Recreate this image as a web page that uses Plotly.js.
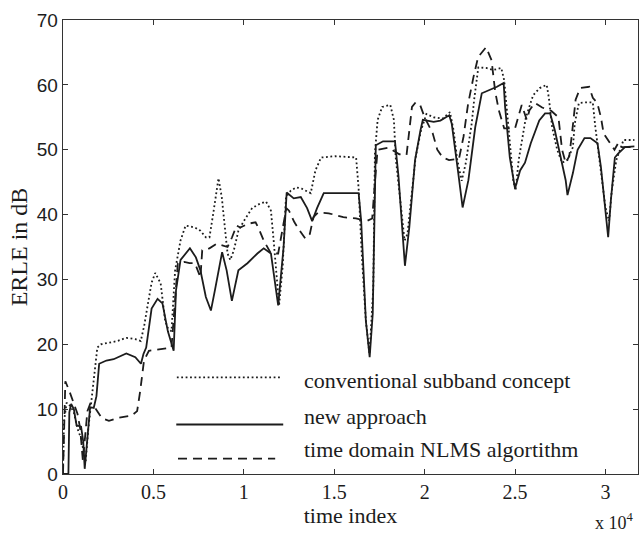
<!DOCTYPE html>
<html>
<head>
<meta charset="utf-8">
<script src="https://cdn.plot.ly/plotly-3.0.1.min.js"></script>
<style>html,body{margin:0;padding:0;background:#fff;}#chart{width:643px;height:538px;}</style>
</head>
<body>
<div id="chart"></div>
<script>
// time index in units of 10^4
var convX = [0, 0.005, 0.02, 0.04, 0.06, 0.08, 0.1, 0.115, 0.125, 0.14, 0.155, 0.17, 0.19, 0.21, 0.25, 0.3, 0.35, 0.4, 0.43, 0.45, 0.47, 0.49, 0.51, 0.54, 0.565, 0.58, 0.6, 0.62, 0.65, 0.678, 0.73, 0.76, 0.79, 0.81, 0.83, 0.85, 0.86, 0.878, 0.895, 0.91, 0.925, 0.945, 0.97, 1.0, 1.046, 1.09, 1.123, 1.15, 1.165, 1.18, 1.195, 1.215, 1.233, 1.26, 1.29, 1.32, 1.37, 1.396, 1.427, 1.505, 1.621, 1.635, 1.652, 1.675, 1.695, 1.716, 1.725, 1.74, 1.765, 1.81, 1.83, 1.84, 1.87, 1.889, 1.905, 1.925, 1.95, 1.98, 2.01, 2.05, 2.1, 2.14, 2.16, 2.18, 2.205, 2.228, 2.24, 2.26, 2.275, 2.297, 2.34, 2.38, 2.424, 2.44, 2.47, 2.49, 2.503, 2.52, 2.56, 2.6, 2.636, 2.675, 2.687, 2.705, 2.733, 2.76, 2.79, 2.82, 2.83, 2.853, 2.886, 2.93, 2.944, 2.97, 3.0, 3.02, 3.035, 3.06, 3.1, 3.16];
var convY = [0, 8, 11, 10.5, 9.5, 7, 5.5, 3, 1.8, 7, 11, 15, 19.5, 20, 20.2, 20.5, 21, 20.8, 20.5, 23, 26.3, 29.5, 31, 29.4, 23.6, 22.5, 22, 31.4, 36, 38.3, 38, 37.5, 36.5, 36.5, 40, 43.3, 45.6, 42.7, 38.6, 34, 33, 34.5, 37.5, 39, 41, 41.7, 42, 40.6, 36, 31, 26, 32, 42.7, 43.7, 44.2, 44, 43.3, 46.8, 48.8, 49, 48.8, 44, 34, 23.6, 18.5, 28.7, 49.4, 54.6, 56.6, 56.9, 54.6, 48.8, 41, 36, 37, 42.7, 48.8, 53, 55.5, 55, 54.8, 55.8, 53, 48.5, 45.2, 48, 50, 54, 58, 62.7, 62.6, 62.3, 62.6, 60.7, 51.5, 45.3, 43.7, 48.4, 55, 58.4, 59.5, 60, 58, 53.5, 50, 48, 48.4, 50.4, 54, 57.2, 57.3, 57.3, 53.5, 47.3, 41.1, 39, 43.7, 48.4, 51.5, 51.5];

var newX = [0, 0.03, 0.035, 0.045, 0.06, 0.075, 0.1, 0.112, 0.12, 0.135, 0.15, 0.17, 0.185, 0.2, 0.24, 0.28, 0.35, 0.4, 0.431, 0.445, 0.46, 0.49, 0.523, 0.55, 0.58, 0.612, 0.625, 0.65, 0.702, 0.735, 0.76, 0.79, 0.818, 0.84, 0.88, 0.905, 0.934, 0.97, 1.02, 1.075, 1.11, 1.15, 1.18, 1.19, 1.22, 1.237, 1.276, 1.315, 1.35, 1.378, 1.405, 1.442, 1.635, 1.649, 1.675, 1.696, 1.713, 1.721, 1.73, 1.77, 1.836, 1.855, 1.891, 1.915, 1.947, 1.977, 1.99, 2.05, 2.087, 2.136, 2.15, 2.186, 2.21, 2.242, 2.28, 2.316, 2.36, 2.4, 2.437, 2.445, 2.471, 2.5, 2.528, 2.555, 2.587, 2.634, 2.666, 2.694, 2.72, 2.75, 2.78, 2.79, 2.82, 2.846, 2.884, 2.917, 2.956, 2.975, 3.0, 3.015, 3.03, 3.052, 3.07, 3.108, 3.16];
var newY = [0, 0, 9.5, 10.8, 10, 7.5, 7.3, 5, 0.8, 6, 10.3, 10.2, 12, 17, 17.5, 17.7, 18.6, 18, 17, 18.5, 19.5, 25.5, 27, 26.3, 22, 19, 28.3, 33, 34.8, 33.4, 31.4, 27.3, 25.2, 28.3, 34.2, 31.4, 26.7, 31.4, 32.5, 34, 34.8, 34, 28.3, 26, 35, 43.4, 42.5, 42.7, 41, 39, 41, 43.3, 43.3, 39, 23.6, 18, 24.7, 39, 50.7, 51.3, 51.3, 46, 32.1, 38, 48.4, 53, 54.6, 54.3, 54.5, 55.3, 54, 46.4, 41.1, 45.3, 53.5, 58.7, 59.2, 59.7, 60.3, 56.6, 48.8, 44, 46.8, 48, 51, 54.5, 55.6, 55.6, 53, 49.4, 45.3, 43, 46.4, 50, 51.8, 51.8, 51, 47.3, 41.1, 36.5, 42.2, 48.8, 49.4, 50.4, 50.5];

var nlmsX = [0, 0.005, 0.013, 0.035, 0.063, 0.08, 0.095, 0.11, 0.135, 0.15, 0.177, 0.215, 0.254, 0.31, 0.38, 0.41, 0.427, 0.448, 0.475, 0.547, 0.6, 0.615, 0.635, 0.67, 0.7, 0.73, 0.76, 0.77, 0.81, 0.85, 0.89, 0.91, 0.935, 0.96, 0.98, 1.025, 1.065, 1.08, 1.11, 1.15, 1.19, 1.215, 1.235, 1.25, 1.28, 1.31, 1.34, 1.365, 1.385, 1.41, 1.47, 1.55, 1.62, 1.68, 1.71, 1.725, 1.74, 1.8, 1.86, 1.9, 1.915, 1.93, 1.95, 1.975, 2.0, 2.045, 2.07, 2.1, 2.135, 2.19, 2.215, 2.24, 2.27, 2.296, 2.34, 2.37, 2.39, 2.41, 2.44, 2.5, 2.537, 2.565, 2.58, 2.61, 2.65, 2.7, 2.74, 2.76, 2.78, 2.8, 2.815, 2.835, 2.86, 2.91, 2.93, 2.955, 2.975, 2.99, 3.05, 3.07, 3.09, 3.16];
var nlmsY = [0, 8, 14.3, 12.8, 10.8, 9.3, 7, 2, 9.7, 10.8, 10.2, 8.6, 8.2, 8.7, 9, 9.7, 12.8, 17.5, 19, 19.3, 19.5, 25, 32.5, 32.7, 32.5, 32.5, 30.3, 34.5, 34.8, 35.5, 35.2, 35, 36.5, 38.3, 38, 38.6, 38.8, 38, 36, 34, 34, 38, 41, 40.6, 38.8, 37.5, 36.3, 37, 39.6, 40.3, 40.2, 39.6, 39.4, 39, 39.4, 45, 50, 50.3, 49.3, 49.2, 52.5, 56.6, 57.3, 56.9, 55, 52.5, 50, 48.8, 48.4, 48.6, 52, 57, 61.2, 64.3, 65.8, 63.8, 59, 56.1, 53.3, 53.3, 56.9, 54.6, 56.1, 57.2, 56.5, 56, 55, 50, 48, 49, 52.5, 57.7, 59.5, 59.7, 58, 57.2, 55, 52.5, 50, 51, 50.4, 50.4];

var seriesNames = ['conventional subband concept', 'new approach', 'time domain NLMS algortithm'];
var xTicks = [0, 0.5, 1, 1.5, 2, 2.5, 3];
var xTickText = ['0', '0.5', '1', '1.5', '2', '2.5', '3'];
var yTicks = [0, 10, 20, 30, 40, 50, 60, 70];

var ink = '#1c1c1c';
var serif = 'Liberation Serif, Times New Roman, serif';
var sans = 'Liberation Sans, Arial, sans-serif';

var traces = [
  {x: convX, y: convY, name: seriesNames[0], mode: 'lines', line: {color: ink, width: 1.8, dash: '1.8px,2.6px'}},
  {x: newX, y: newY, name: seriesNames[1], mode: 'lines', line: {color: ink, width: 1.8}},
  {x: nlmsX, y: nlmsY, name: seriesNames[2], mode: 'lines', line: {color: ink, width: 1.8, dash: '9px,6px'}}
];

// legend keys drawn as paper-space lines (long samples like the original)
var legendRows = [
  {y: 0.213, x0: 0.198, x1: 0.381, ty: 0.205},
  {y: 0.109, x0: 0.197, x1: 0.383, ty: 0.127},
  {y: 0.034, x0: 0.200, x1: 0.369, ty: 0.054}
];
var shapes = legendRows.map(function (r, i) {
  return {type: 'line', xref: 'paper', yref: 'paper', x0: r.x0, x1: r.x1, y0: r.y, y1: r.y,
    line: {color: ink, width: 1.8, dash: traces[i].line.dash || 'solid'}};
});
var annotations = legendRows.map(function (r, i) {
  return {xref: 'paper', yref: 'paper', x: 0.416, y: r.ty, xanchor: 'left', yanchor: 'middle',
    text: seriesNames[i], showarrow: false, font: {family: serif, size: 22, color: ink}};
});
annotations.push({xref: 'paper', yref: 'paper', x: 0.997, y: -0.135, xanchor: 'right', yanchor: 'bottom',
  text: 'x 10<sup>4</sup>', showarrow: false, font: {family: serif, size: 18, color: ink}});

var layout = {
  width: 643, height: 538,
  margin: {l: 63, r: 5, t: 20, b: 64},
  paper_bgcolor: '#fff', plot_bgcolor: '#fff',
  showlegend: false,
  xaxis: {
    range: [0, 3.18], tickvals: xTicks, ticktext: xTickText,
    ticks: 'inside', ticklen: 5, tickcolor: '#333', mirror: 'ticks',
    showline: true, linecolor: '#333', linewidth: 1.3, showgrid: false, zeroline: false,
    tickfont: {family: serif, size: 20, color: ink},
    title: {text: 'time index', font: {family: serif, size: 22, color: ink}, standoff: 0}
  },
  yaxis: {
    range: [0, 70], tickvals: yTicks,
    ticks: 'inside', ticklen: 5, tickcolor: '#333', mirror: 'ticks',
    showline: true, linecolor: '#333', linewidth: 1.3, showgrid: false, zeroline: false,
    tickfont: {family: sans, size: 19, color: ink},
    title: {text: 'ERLE in dB', font: {family: serif, size: 24, color: ink}, standoff: 2}
  },
  shapes: shapes,
  annotations: annotations
};

Plotly.newPlot('chart', traces, layout, {displayModeBar: false, staticPlot: true});
</script>
</body>
</html>
